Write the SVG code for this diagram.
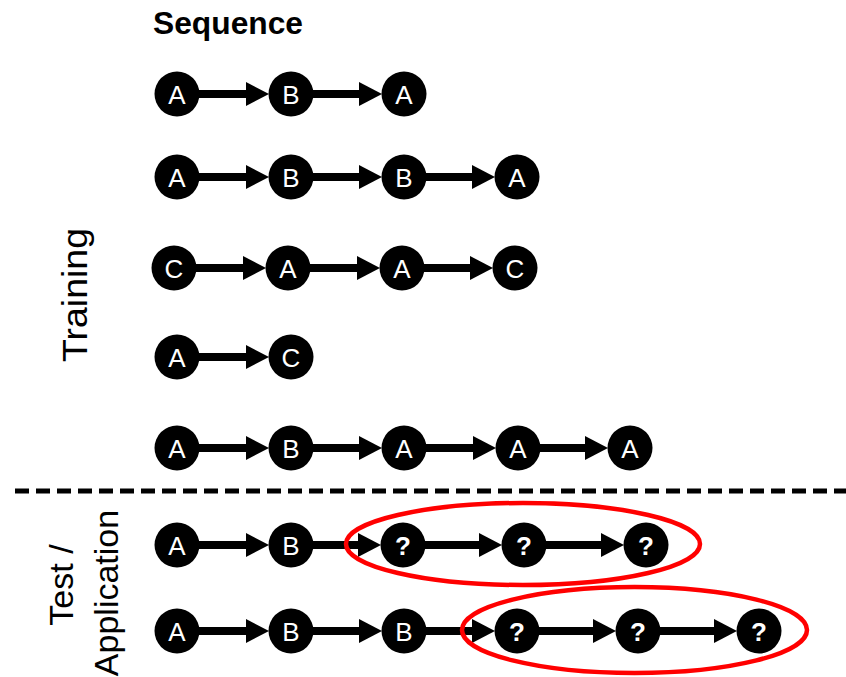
<svg xmlns="http://www.w3.org/2000/svg" width="846" height="677" viewBox="0 0 846 677">
  <style>
    .node circle { fill: #000; }
    .node text { fill: #fff; font-family: "Liberation Sans", Arial, sans-serif; font-size: 26px; text-anchor: middle; }
    .node.q text { font-weight: bold; }
    .edge { stroke: #000; stroke-width: 8; fill: none; marker-end: url(#head); }
    .label { font-family: "Liberation Sans", Arial, sans-serif; fill: #000; }
    .group { fill: none; stroke: #ff0000; stroke-width: 4.5; }
  </style>
  <defs>
    <marker id="head" markerUnits="userSpaceOnUse" markerWidth="24" markerHeight="26" refX="13" refY="12" orient="auto" overflow="visible">
      <path d="M0,0 L23,12 L0,24 z" fill="#000"/>
    </marker>
  </defs>
  <rect width="846" height="677" fill="#fff"/>

  <!-- headings -->
  <text class="label" x="153" y="34" font-size="32" font-weight="bold" textLength="150" lengthAdjust="spacingAndGlyphs">Sequence</text>
  <text class="label" font-size="35" text-anchor="middle" transform="translate(87,295) rotate(-90)" textLength="134" lengthAdjust="spacingAndGlyphs">Training</text>
  <text class="label" font-size="34" text-anchor="middle" transform="translate(73,585) rotate(-90)">Test /</text>
  <text class="label" font-size="34" text-anchor="middle" transform="translate(118,593) rotate(-90)">Application</text>

  <!-- training / test separator -->
  <line x1="15" y1="491" x2="846" y2="491" stroke="#000" stroke-width="5" stroke-dasharray="14 7"/>

  <!-- connectors -->
  <g id="connectors">
    <line class="edge" x1="199" y1="94" x2="259" y2="94"/>
    <line class="edge" x1="313" y1="94" x2="372" y2="94"/>

    <line class="edge" x1="199" y1="177" x2="259" y2="177"/>
    <line class="edge" x1="313" y1="177" x2="372" y2="177"/>
    <line class="edge" x1="426" y1="177" x2="485" y2="177"/>

    <line class="edge" x1="196" y1="268" x2="256" y2="268"/>
    <line class="edge" x1="310" y1="268" x2="370" y2="268"/>
    <line class="edge" x1="424" y1="268" x2="483" y2="268"/>

    <line class="edge" x1="199" y1="357" x2="259" y2="357"/>

    <line class="edge" x1="199" y1="448" x2="259" y2="448"/>
    <line class="edge" x1="313" y1="448" x2="372" y2="448"/>
    <line class="edge" x1="426" y1="448" x2="486" y2="448"/>
    <line class="edge" x1="540" y1="448" x2="598" y2="448"/>

    <line class="edge" x1="199" y1="545" x2="259" y2="545"/>
    <line class="edge" x1="313" y1="545" x2="371" y2="545"/>
    <line class="edge" x1="425" y1="545" x2="492" y2="545"/>
    <line class="edge" x1="546" y1="545" x2="614" y2="545"/>

    <line class="edge" x1="199" y1="631" x2="259" y2="631"/>
    <line class="edge" x1="313" y1="631" x2="372" y2="631"/>
    <line class="edge" x1="426" y1="631" x2="485" y2="631"/>
    <line class="edge" x1="539" y1="631" x2="606" y2="631"/>
    <line class="edge" x1="660" y1="631" x2="727" y2="631"/>
  </g>

  <!-- training sequences -->
  <g id="s1n1" class="node"><circle cx="177" cy="94" r="22.5"/><text x="177" y="103.5">A</text></g>
  <g id="s1n2" class="node"><circle cx="291" cy="94" r="22.5"/><text x="291" y="103.5">B</text></g>
  <g id="s1n3" class="node"><circle cx="404" cy="94" r="22.5"/><text x="404" y="103.5">A</text></g>

  <g id="s2n1" class="node"><circle cx="177" cy="177" r="22.5"/><text x="177" y="186.5">A</text></g>
  <g id="s2n2" class="node"><circle cx="291" cy="177" r="22.5"/><text x="291" y="186.5">B</text></g>
  <g id="s2n3" class="node"><circle cx="404" cy="177" r="22.5"/><text x="404" y="186.5">B</text></g>
  <g id="s2n4" class="node"><circle cx="517" cy="177" r="22.5"/><text x="517" y="186.5">A</text></g>

  <g id="s3n1" class="node"><circle cx="174" cy="268" r="22.5"/><text x="174" y="277.5">C</text></g>
  <g id="s3n2" class="node"><circle cx="288" cy="268" r="22.5"/><text x="288" y="277.5">A</text></g>
  <g id="s3n3" class="node"><circle cx="402" cy="268" r="22.5"/><text x="402" y="277.5">A</text></g>
  <g id="s3n4" class="node"><circle cx="515" cy="268" r="22.5"/><text x="515" y="277.5">C</text></g>

  <g id="s4n1" class="node"><circle cx="177" cy="357" r="22.5"/><text x="177" y="366.5">A</text></g>
  <g id="s4n2" class="node"><circle cx="291" cy="357" r="22.5"/><text x="291" y="366.5">C</text></g>

  <g id="s5n1" class="node"><circle cx="177" cy="448" r="22.5"/><text x="177" y="457.5">A</text></g>
  <g id="s5n2" class="node"><circle cx="291" cy="448" r="22.5"/><text x="291" y="457.5">B</text></g>
  <g id="s5n3" class="node"><circle cx="404" cy="448" r="22.5"/><text x="404" y="457.5">A</text></g>
  <g id="s5n4" class="node"><circle cx="518" cy="448" r="22.5"/><text x="518" y="457.5">A</text></g>
  <g id="s5n5" class="node"><circle cx="630" cy="448" r="22.5"/><text x="630" y="457.5">A</text></g>

  <!-- test sequences -->
  <g id="t1n1" class="node"><circle cx="177" cy="545" r="22.5"/><text x="177" y="554.5">A</text></g>
  <g id="t1n2" class="node"><circle cx="291" cy="545" r="22.5"/><text x="291" y="554.5">B</text></g>
  <g id="t1n3" class="node q"><circle cx="403" cy="545" r="22.5"/><text x="403" y="554.5">?</text></g>
  <g id="t1n4" class="node q"><circle cx="524" cy="545" r="22.5"/><text x="524" y="554.5">?</text></g>
  <g id="t1n5" class="node q"><circle cx="646" cy="545" r="22.5"/><text x="646" y="554.5">?</text></g>

  <g id="t2n1" class="node"><circle cx="177" cy="631" r="22.5"/><text x="177" y="640.5">A</text></g>
  <g id="t2n2" class="node"><circle cx="291" cy="631" r="22.5"/><text x="291" y="640.5">B</text></g>
  <g id="t2n3" class="node"><circle cx="404" cy="631" r="22.5"/><text x="404" y="640.5">B</text></g>
  <g id="t2n4" class="node q"><circle cx="517" cy="631" r="22.5"/><text x="517" y="640.5">?</text></g>
  <g id="t2n5" class="node q"><circle cx="638" cy="631" r="22.5"/><text x="638" y="640.5">?</text></g>
  <g id="t2n6" class="node q"><circle cx="759" cy="631" r="22.5"/><text x="759" y="640.5">?</text></g>

  <!-- predicted spans -->
  <ellipse class="group" cx="523" cy="544" rx="177" ry="41"/>
  <ellipse class="group" cx="634.5" cy="630" rx="172.5" ry="43"/>
</svg>
